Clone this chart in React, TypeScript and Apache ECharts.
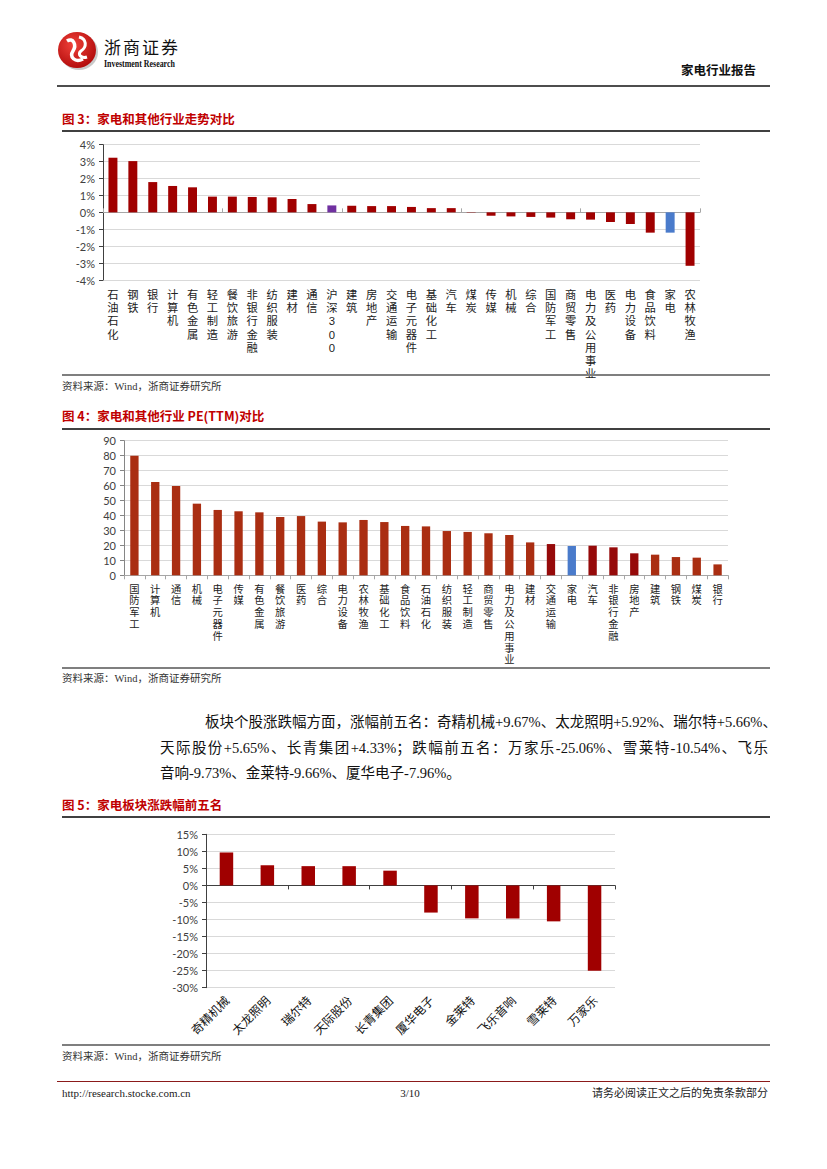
import React, { useEffect, useRef } from "react";
import * as echarts from "echarts";

// ---------- Data ----------
const trendCategories = [
  "石油石化", "钢铁", "银行", "计算机", "有色金属", "轻工制造", "餐饮旅游", "非银行金融",
  "纺织服装", "建材", "通信", "沪深300", "建筑", "房地产", "交通运输", "电子元器件",
  "基础化工", "汽车", "煤炭", "传媒", "机械", "综合", "国防军工", "商贸零售",
  "电力及公用事业", "医药", "电力设备", "食品饮料", "家电", "农林牧渔",
];
const trendValues = [
  3.23, 3.03, 1.79, 1.56, 1.48, 0.93, 0.93, 0.91,
  0.89, 0.79, 0.49, 0.41, 0.39, 0.37, 0.37, 0.32,
  0.25, 0.25, -0.02, -0.2, -0.24, -0.27, -0.31, -0.41,
  -0.43, -0.57, -0.69, -1.2, -1.2, -3.16,
];

const peCategories = [
  "国防军工", "计算机", "通信", "机械", "电子元器件", "传媒", "有色金属", "餐饮旅游",
  "医药", "综合", "电力设备", "农林牧渔", "基础化工", "食品饮料", "石油石化", "纺织服装",
  "轻工制造", "商贸零售", "电力及公用事业", "建材", "交通运输", "家电", "汽车", "非银行金融",
  "房地产", "建筑", "钢铁", "煤炭", "银行",
];
const peValues = [
  79.9, 62.4, 59.7, 47.9, 43.7, 42.8, 42.1, 39.0,
  39.6, 35.9, 35.4, 37.0, 35.6, 33.0, 32.7, 29.6,
  29.0, 28.1, 26.9, 22.0, 20.9, 19.6, 19.8, 18.7,
  14.7, 13.8, 12.2, 11.8, 7.3,
];
const peDarkCategories = ["交通运输", "汽车", "非银行金融", "房地产"];

const stockNames = [
  "奇精机械", "太龙照明", "瑞尔特", "天际股份", "长青集团",
  "厦华电子", "金莱特", "飞乐音响", "雪莱特", "万家乐",
];
const stockChanges = [9.67, 5.92, 5.66, 5.65, 4.33, -7.96, -9.66, -9.73, -10.54, -25.06];

const trendAxis = { min: -4, max: 4, interval: 1 };
const peAxis = { min: 0, max: 90, interval: 10 };
const stockAxis = { min: -30, max: 15, interval: 5 };

const paragraphLines = [
  "板块个股涨跌幅方面，涨幅前五名：奇精机械+9.67%、太龙照明+5.92%、瑞尔特+5.66%、",
  "天际股份+5.65%、长青集团+4.33%；跌幅前五名：万家乐-25.06%、雪莱特-10.54%、飞乐",
  "音响-9.73%、金莱特-9.66%、厦华电子-7.96%。",
];

// ---------- Styles ----------
const RED = "#A00000";
const PE_RED = "#AA2E12";
const PE_DARK = "#960A0A";
const BLUE = "#4A7BCB";
const PURPLE = "#7030A0";
const CJK = "'Noto Sans CJK SC', sans-serif";
const VCJK = "'Liberation Sans', 'Noto Sans CJK SC', sans-serif";
const NUM = "Lato, 'Noto Sans', sans-serif";
const SERIF = "'Liberation Serif', 'Noto Sans CJK SC', serif";

const vertical = (v: string) =>
  v === "沪深300" ? "沪\n深\n3\n0\n0" : v.split("").join("\n");

function Txt(props: {
  x: number;
  cy: number;
  text: string;
  size?: number;
  color?: string;
  bold?: boolean;
  family?: string;
  align?: "left" | "right" | "center";
  width?: number;
  style?: React.CSSProperties;
}) {
  const lh = 18;
  const w = props.width ?? 400;
  let left = props.x;
  if (props.align === "right") left = props.x - w;
  if (props.align === "center") left = props.x - w / 2;
  return (
    <div
      style={{
        position: "absolute",
        left,
        top: props.cy - lh / 2,
        width: w,
        height: lh,
        lineHeight: lh + "px",
        fontSize: props.size ?? 11,
        color: props.color ?? "#222",
        fontWeight: props.bold ? 700 : 400,
        fontFamily: props.family ?? CJK,
        textAlign: props.align ?? "left",
        whiteSpace: "nowrap",
        ...props.style,
      }}
    >
      {props.text}
    </div>
  );
}

function HLine(props: { x1: number; x2: number; y: number; h: number; color: string }) {
  return (
    <div
      style={{
        position: "absolute",
        left: props.x1,
        top: props.y - props.h / 2,
        width: props.x2 - props.x1,
        height: props.h,
        background: props.color,
      }}
    />
  );
}

export default function App() {
  const ref = useRef<HTMLDivElement>(null);

  useEffect(() => {
    if (!ref.current) return;
    const chart = echarts.init(ref.current, undefined, { renderer: "svg" });

    const yLabel = { fontFamily: NUM, fontSize: 11, color: "#404040", margin: 8 };
    const split = { show: true, lineStyle: { color: "#D9D9D9", width: 1 } };

    chart.setOption({
      animation: false,
      grid: [
        { left: 103, top: 144.7, width: 597, height: 135.3, containLabel: false },
        { left: 124, top: 440.7, width: 604, height: 134.6, containLabel: false },
        { left: 206, top: 834.3, width: 409, height: 153.4, containLabel: false },
      ],
      xAxis: [
        {
          gridIndex: 0,
          type: "category",
          data: trendCategories,
          position: "bottom",
          axisLine: { show: false, onZero: false },
          axisTick: { show: false },
          axisLabel: {
            interval: 0,
            formatter: vertical,
            fontFamily: VCJK,
            fontSize: 11.3,
            lineHeight: 13.3,
            color: "#222",
            margin: 8,
            verticalAlign: "top",
          },
        },
        {
          gridIndex: 0,
          type: "category",
          data: trendCategories,
          position: "bottom",
          axisLine: { show: true, onZero: true, lineStyle: { color: "#A6A6A6", width: 1 } },
          axisTick: { show: true, inside: true, length: 4, lineStyle: { color: "#A6A6A6" } },
          axisLabel: { show: false },
        },
        {
          gridIndex: 1,
          type: "category",
          data: peCategories,
          position: "bottom",
          axisLine: { show: true, lineStyle: { color: "#A6A6A6", width: 1 } },
          axisTick: { show: true, length: 4, lineStyle: { color: "#A6A6A6" } },
          axisLabel: {
            interval: 0,
            formatter: vertical,
            fontFamily: VCJK,
            fontSize: 10.3,
            lineHeight: 11.8,
            color: "#222",
            margin: 8,
            verticalAlign: "top",
          },
        },
        {
          gridIndex: 2,
          type: "category",
          data: stockNames,
          position: "bottom",
          axisLine: { show: false, onZero: false },
          axisTick: { show: false },
          axisLabel: {
            interval: 0,
            rotate: 45,
            fontFamily: CJK,
            fontSize: 12,
            color: "#111",
            margin: 10,
          },
        },
        {
          gridIndex: 2,
          type: "category",
          data: stockNames,
          position: "bottom",
          axisLine: { show: true, onZero: true, lineStyle: { color: "#404040", width: 1 } },
          axisTick: { show: true, length: 4, lineStyle: { color: "#404040" } },
          axisLabel: { show: false },
        },
      ],
      yAxis: [
        {
          gridIndex: 0,
          type: "value",
          ...trendAxis,
          axisLine: { show: true, lineStyle: { color: "#404040" } },
          axisTick: { show: true, length: 4, lineStyle: { color: "#404040" } },
          axisLabel: { ...yLabel, formatter: "{value}%" },
          splitLine: split,
        },
        {
          gridIndex: 1,
          type: "value",
          ...peAxis,
          axisLine: { show: true, lineStyle: { color: "#868686" } },
          axisTick: { show: true, length: 4, lineStyle: { color: "#868686" } },
          axisLabel: { ...yLabel },
          splitLine: split,
        },
        {
          gridIndex: 2,
          type: "value",
          ...stockAxis,
          axisLine: { show: true, lineStyle: { color: "#404040" } },
          axisTick: { show: true, length: 4, lineStyle: { color: "#404040" } },
          axisLabel: { ...yLabel, formatter: "{value}%" },
          splitLine: split,
        },
      ],
      series: [
        {
          type: "bar",
          xAxisIndex: 0,
          yAxisIndex: 0,
          barWidth: "45%",
          data: trendValues,
          itemStyle: {
            color: (p: any) =>
              trendCategories[p.dataIndex] === "沪深300"
                ? PURPLE
                : trendCategories[p.dataIndex] === "家电"
                ? BLUE
                : RED,
          },
        },
        {
          type: "bar",
          xAxisIndex: 2,
          yAxisIndex: 1,
          barWidth: "40%",
          data: peValues,
          itemStyle: {
            color: (p: any) => {
              const n = peCategories[p.dataIndex];
              if (n === "家电") return BLUE;
              if (peDarkCategories.indexOf(n) >= 0) return PE_DARK;
              return PE_RED;
            },
          },
        },
        {
          type: "bar",
          xAxisIndex: 3,
          yAxisIndex: 2,
          barWidth: "33%",
          data: stockChanges,
          itemStyle: { color: RED },
        },
      ],
    });

    return () => chart.dispose();
  }, []);

  return (
    <div
      style={{
        position: "absolute",
        left: 0,
        top: 0,
        width: 827,
        height: 1169,
        background: "#fff",
        overflow: "hidden",
      }}
    >
      <div ref={ref} style={{ position: "absolute", left: 0, top: 0, width: 827, height: 1169 }} />

      {/* Header */}
      <svg
        style={{ position: "absolute", left: 53, top: 29 }}
        width={48}
        height={44}
        viewBox="0 0 48 44"
      >
        <defs>
          <radialGradient id="lg" cx="40%" cy="35%" r="70%">
            <stop offset="0%" stopColor="#F0413A" />
            <stop offset="100%" stopColor="#B00A0A" />
          </radialGradient>
        </defs>
        <ellipse cx="26" cy="23" rx="19" ry="18" fill="#C9C9C9" />
        <ellipse cx="24" cy="21" rx="19" ry="18" fill="url(#lg)" />
        <path d="M14 12 C20 8 24 16 20 22 C16 28 22 34 30 30" stroke="#fff" strokeWidth="3.5" fill="none" />
        <path d="M26 8 C34 10 34 18 28 22 C24 25 28 30 34 28" stroke="#fff" strokeWidth="3" fill="none" />
      </svg>
      <Txt x={104} cy={47} text="浙商证券" size={17} color="#111" family={CJK} style={{ letterSpacing: 2 }} />
      <Txt
        x={104}
        cy={63}
        text="Investment Research"
        size={11}
        bold
        color="#111"
        family={SERIF}
        style={{ transform: "scaleX(0.72)", transformOrigin: "left center" }}
      />
      <Txt x={756} cy={70} text="家电行业报告" size={12.5} bold color="#111" align="right" width={200} />
      <HLine x1={57} x2={770} y={86} h={1.5} color="#4D4D4D" />

      {/* Figure 3 */}
      <Txt x={62} cy={119} text="图 3：家电和其他行业走势对比" size={12.5} bold color="#C00000" />
      <HLine x1={62} x2={770} y={130.5} h={2} color="#404040" />
      <HLine x1={62} x2={770} y={374.5} h={2} color="#7F7F7F" />
      <Txt x={62} cy={387} text="资料来源：Wind，浙商证券研究所" size={10.5} color="#333" family={SERIF} />

      {/* Figure 4 */}
      <Txt x={62} cy={416} text="图 4：家电和其他行业 PE(TTM)对比" size={12.5} bold color="#C00000" />
      <HLine x1={62} x2={770} y={428.5} h={2} color="#404040" />
      <HLine x1={62} x2={770} y={668} h={2} color="#7F7F7F" />
      <Txt x={62} cy={679} text="资料来源：Wind，浙商证券研究所" size={10.5} color="#333" family={SERIF} />

      {/* Paragraph */}
      {paragraphLines.map((line, i) => (
        <div
          key={i}
          style={{
            position: "absolute",
            left: i === 0 ? 205 : 160,
            top: [722, 748, 773][i] - 11,
            width: i === 0 ? 563 : i === 1 ? 608 : 400,
            height: 22,
            lineHeight: "22px",
            fontSize: 14.5,
            fontFamily: SERIF,
            color: "#111",
            textAlign: i < 2 ? "justify" : "left",
            textAlignLast: i < 2 ? "justify" : "left",
            whiteSpace: "nowrap",
          } as React.CSSProperties}
        >
          {line}
        </div>
      ))}

      {/* Figure 5 */}
      <Txt x={62} cy={805} text="图 5：家电板块涨跌幅前五名" size={12.5} bold color="#C00000" />
      <HLine x1={62} x2={770} y={817} h={2} color="#404040" />
      <HLine x1={62} x2={770} y={1045} h={2} color="#7F7F7F" />
      <Txt x={62} cy={1057} text="资料来源：Wind，浙商证券研究所" size={10.5} color="#333" family={SERIF} />

      {/* Footer */}
      <HLine x1={57} x2={770} y={1081} h={1} color="#8B1A1A" />
      <Txt x={62} cy={1093} text="http://research.stocke.com.cn" size={11} color="#222" family={SERIF} />
      <Txt x={410} cy={1093} text="3/10" size={11} color="#222" family={SERIF} align="center" width={60} />
      <Txt x={768} cy={1093} text="请务必阅读正文之后的免责条款部分" size={11} color="#222" family={SERIF} align="right" width={250} />
    </div>
  );
}
